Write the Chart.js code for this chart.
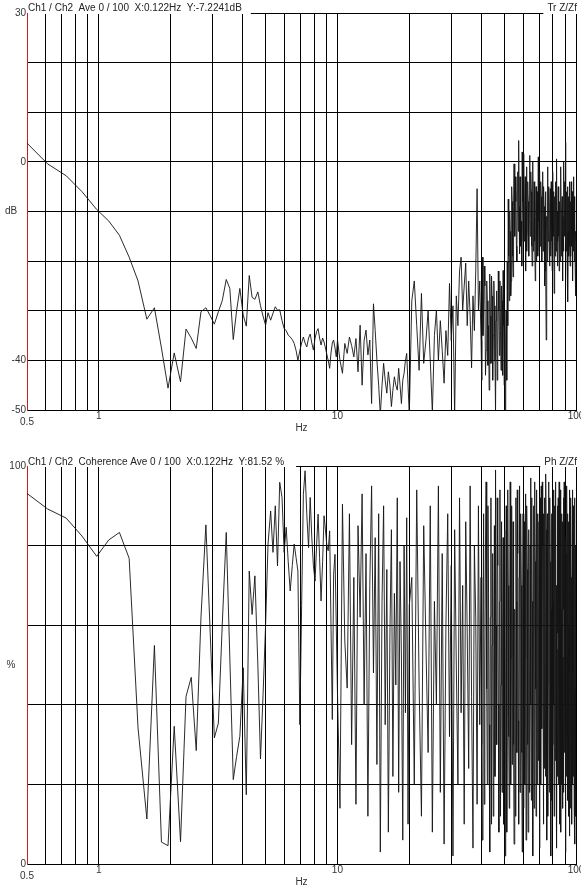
<!DOCTYPE html>
<html>
<head>
<meta charset="utf-8">
<script src="https://cdn.jsdelivr.net/npm/chart.js@4.4.1/dist/chart.umd.min.js"></script>
<style>
  html, body { margin: 0; padding: 0; background: #fff; }
  #wrap { position: relative; width: 581px; height: 886px; overflow: hidden; background: #fff; }
  .panel { position: absolute; left: 0; width: 600px; }
  #magBox { top: 0; height: 446px; }
  #cohBox { top: 446px; height: 440px; }
</style>
</head>
<body>
<div id="wrap">
  <div class="panel" id="magBox"><canvas id="magChart"></canvas></div>
  <div class="panel" id="cohBox"><canvas id="cohChart"></canvas></div>
</div>
<script>
// ---- frequency bins (Hz) ----
const freqLow = [
  0.49, 0.61, 0.73, 0.85, 0.98, 1.10, 1.22, 1.34, 1.46, 1.59,
  1.71, 1.83, 1.95, 2.07, 2.20, 2.32, 2.44, 2.56, 2.68, 2.81,
  2.93, 3.05, 3.17, 3.29, 3.42, 3.54, 3.66, 3.78, 3.90, 4.03,
  4.15, 4.27, 4.39, 4.51, 4.64, 4.76, 4.88, 5.00, 5.12, 5.25,
  5.37, 5.49, 5.61, 5.73, 5.86, 5.98, 6.10, 6.22, 6.34, 6.47,
  6.59, 6.71, 6.83, 6.96, 7.08, 7.20, 7.32, 7.44, 7.57, 7.69,
  7.81, 7.93, 8.06, 8.18, 8.30, 8.42, 8.54, 8.67, 8.79, 8.91,
  9.03, 9.15, 9.28, 9.40, 9.52, 9.64, 9.77, 9.89, 10.01
];
const freqMid = [
  10.25, 10.50, 10.74, 10.99, 11.23, 11.47, 11.72, 11.96, 12.20, 12.45,
  12.69, 12.94, 13.18, 13.42, 13.67, 13.91, 14.16, 14.40, 14.64, 14.89,
  15.13, 15.38, 15.62, 15.86, 16.11, 16.35, 16.60, 16.84, 17.08, 17.33,
  17.57, 17.82, 18.06, 18.30, 18.55, 18.79, 19.03, 19.28, 19.52, 19.77,
  20.01
];
const freqHigh = [
  20.5, 21, 21.5, 22, 22.5, 23, 23.5, 24, 24.5, 25,
  25.5, 26, 26.5, 27, 27.5, 28, 28.5, 29, 29.5, 30,
  30.5, 31, 31.5, 32, 32.5, 33, 33.5, 34, 34.5, 35,
  35.5, 36, 36.5, 37, 37.5, 38, 38.5, 39, 39.5, 40
];
const freqTop = [
  40.25, 40.5, 40.75, 41, 41.25, 41.5, 41.75, 42, 42.25, 42.5, 42.75, 43, 43.25, 43.5, 43.75, 44, 44.25, 44.5, 44.75, 45,
  45.25, 45.5, 45.75, 46, 46.25, 46.5, 46.75, 47, 47.25, 47.5, 47.75, 48, 48.25, 48.5, 48.75, 49, 49.25, 49.5, 49.75, 50,
  50.25, 50.5, 50.75, 51, 51.25, 51.5, 51.75, 52, 52.25, 52.5, 52.75, 53, 53.25, 53.5, 53.75, 54, 54.25, 54.5, 54.75, 55,
  55.25, 55.5, 55.75, 56, 56.25, 56.5, 56.75, 57, 57.25, 57.5, 57.75, 58, 58.25, 58.5, 58.75, 59, 59.25, 59.5, 59.75, 60,
  60.25, 60.5, 60.75, 61, 61.25, 61.5, 61.75, 62, 62.25, 62.5, 62.75, 63, 63.25, 63.5, 63.75, 64, 64.25, 64.5, 64.75, 65,
  65.25, 65.5, 65.75, 66, 66.25, 66.5, 66.75, 67, 67.25, 67.5, 67.75, 68, 68.25, 68.5, 68.75, 69, 69.25, 69.5, 69.75, 70,
  70.25, 70.5, 70.75, 71, 71.25, 71.5, 71.75, 72, 72.25, 72.5, 72.75, 73, 73.25, 73.5, 73.75, 74, 74.25, 74.5, 74.75, 75,
  75.25, 75.5, 75.75, 76, 76.25, 76.5, 76.75, 77, 77.25, 77.5, 77.75, 78, 78.25, 78.5, 78.75, 79, 79.25, 79.5, 79.75, 80,
  80.25, 80.5, 80.75, 81, 81.25, 81.5, 81.75, 82, 82.25, 82.5, 82.75, 83, 83.25, 83.5, 83.75, 84, 84.25, 84.5, 84.75, 85,
  85.25, 85.5, 85.75, 86, 86.25, 86.5, 86.75, 87, 87.25, 87.5, 87.75, 88, 88.25, 88.5, 88.75, 89, 89.25, 89.5, 89.75, 90,
  90.25, 90.5, 90.75, 91, 91.25, 91.5, 91.75, 92, 92.25, 92.5, 92.75, 93, 93.25, 93.5, 93.75, 94, 94.25, 94.5, 94.75, 95,
  95.25, 95.5, 95.75, 96, 96.25, 96.5, 96.75, 97, 97.25, 97.5, 97.75, 98, 98.25, 98.5, 98.75, 99, 99.25, 99.5, 99.75, 100
];

// ---- Tr Z/Zf magnitude (dB) ----
const dbLow = [
  4.2, -0.4, -2.8, -6.0, -9.6, -11.9, -14.8, -19.2, -24.0, -31.7,
  -29.4, -37.5, -45.6, -38.5, -44.3, -33.7, -35.5, -37.6, -30.2, -29.4,
  -31.0, -32.7, -30.2, -28.0, -23.7, -25.5, -35.8, -30.0, -25.5, -30.9,
  -33.1, -22.9, -27.3, -27.7, -26.2, -29.0, -31.1, -32.9, -30.4, -31.9,
  -30.5, -29.2, -29.9, -29.8, -32.0, -33.6, -34.0, -34.9, -35.3, -35.8,
  -36.6, -38.0, -40.0, -38.0, -36.5, -35.3, -36.5, -37.3, -35.5, -34.7,
  -36.5, -37.9, -35.5, -34.2, -33.6, -35.5, -36.9, -35.5, -36.3, -37.5,
  -38.8, -40.0, -41.6, -38.5, -36.5, -35.9, -37.5, -39.3, -35.9
];
const dbMid = [
  -40.0, -42.6, -36.6, -38.6, -35.3, -37.0, -39.3, -35.6, -42.3, -32.9,
  -45.0, -36.0, -33.9, -38.9, -35.9, -48.7, -28.6, -34.0, -40.0, -45.0,
  -51.0, -45.0, -40.6, -44.0, -46.6, -42.3, -45.0, -49.3, -46.0, -43.3,
  -45.0, -46.0, -41.6, -45.0, -48.7, -44.0, -42.6, -40.0, -38.6, -45.0,
  -51.0
];
const dbHigh = [
  -28, -24, -33, -42, -26.5, -40.6, -36, -30, -40, -50.5,
  -35, -29.9, -40, -32, -38, -44.6, -34, -39, -24.5, -36,
  -29, -51, -27, -33, -22, -19.2, -30, -25, -20.4, -33,
  -24, -31, -41.5, -27, -34, -22, -5.4, -30, -24, -36
];
const dbTop = [
  -44, -19.2, -35, -30, -21, -25, -43, -38, -24, -28, -41, -33, -46, -22.6, -31, -40.6, -23, -27, -44, -35,
  -24, -29, -40, -50.5, -32, -26, -44, -37, -22, -30, -39, -24, -34, -42, -25, -28, -43, -21.9, -33, -45,
  -30, -51, -36, -30, -44, -20, -33, -7.5, -19, -28, -10, -14, -27, -24, -5, -8, -19, -23.2, -9, -0.4,
  -12, -15, -3, -8, -17, -20, -6, -2, -14, 4.3, -9, -18.5, -3, -6, -17, -12, -21, 2, -8, -16,
  -7, 1.6, -16, -10, -3, -22, -9, -1, -18, -14, -4, -8, -16, -19, -7, 1.3, -15, -11, -2, -6,
  -17, -21, -8, 0, -18, -13, -4, -9, -16, -24, -11, -5, -20, -15, -6, -10, -19, 1, -12, -18,
  -9, -1.8, -17, -12, -4, -7, -16, -20, -8, -2, -18, -14, -5, -9, -19, -25, -11, -6, -22, -35.9,
  -18, -11, -20, -1, -12, -16, -5, -8, -17, -21, -9, -5.4, -19, -13, -4, -9, -16, -22, -10, -2,
  -11, -15, -6, -26.5, -14, -7, -19, -12, -4, -18, -9, 0.6, -17, -10, -21, -16, -5, -6, -15, -22,
  -12, -8, -20, -13, -7, -1, -14, -19, -10, -7, -17, -24, -11, -10, -18, 0, -9, -15, -4, -9,
  -16, 3.9, -10, -18, -8, -6, -20, -12, -5, -28.2, -14, -7, -19, -14, -4, -9, -17, -21, -8, -10,
  -19, -4, -12, -17, -6, -11, -20, -24, -9, -3, -18, -15, -7, -20, -10, -12, -22, -27, -14, -16
];

// ---- Coherence (%) ----
const cohLow = [
  93.5, 89.2, 86.9, 82.4, 77.3, 81.4, 83.3, 76.8, 34.2, 11.3,
  54.9, 5.5, 4.6, 34.6, 5.6, 42.1, 46.9, 28.5, 62.0, 85.2,
  58.0, 31.7, 35.4, 60.0, 83.3, 52.0, 21.2, 27.0, 32.1, 49.3,
  17.4, 73.6, 62.7, 72.4, 50.0, 26.4, 42.6, 60.0, 80.4, 88.7,
  78.3, 90.0, 74.9, 95.9, 92.1, 78.3, 84.6, 76.0, 68.6, 75.0,
  80.4, 77.0, 73.6, 35.0, 65.0, 92.9, 98.8, 88.0, 79.5, 92.1,
  82.0, 75.0, 71.1, 80.0, 87.9, 77.0, 66.1, 76.0, 87.5, 84.0,
  80.0, 78.7, 83.7, 60.0, 36.3, 72.8, 77.8, 60.0, 42.6
];
const cohMid = [
  14, 90.4, 56, 44.2, 88, 30, 72, 15, 85, 62,
  93, 40, 78, 12, 70, 95, 48, 82, 25, 88,
  3, 66, 90, 35, 74, 8, 58, 84, 22, 68,
  45, 92, 18, 76, 52, 6, 80, 38, 87, 10,
  65
];
const cohHigh = [
  72, 20, 94, 45, 12, 85, 55, 28, 90, 8,
  66, 40, 95, 18, 78, 5, 60, 88, 32, 75,
  2, 84, 50, 20, 92, 38, 70, 10, 86, 58,
  24, 95, 42, 4, 80, 62, 15, 90, 35, 72
];
const cohTop = [
  30, 6, 58, 88, 15, 48, 80, 96, 44, 20, 90, 68, 35, 3, 62, 92, 10, 55, 78, 12,
  50, 85, 22, 99, 60, 30, 92, 75, 40, 8, 66, 94, 12, 45, 86, 18, 56, 82, 10, 60,
  84, 2, 46, 90, 8, 38, 94, 70, 32, 14, 62, 96, 20, 52, 90, 25, 58, 86, 30, 5,
  40, 64, 12, 92, 66, 28, 94, 78, 36, 10, 72, 95, 18, 44, 88, 70, 28, 3, 60, 88,
  14, 56, 86, 20, 52, 93, 6, 36, 90, 74, 30, 8, 60, 84, 18, 48, 80, 97, 40, 16,
  92, 66, 30, 2, 58, 90, 14, 40, 96, 76, 44, 12, 70, 94, 20, 58, 88, 26, 62, 86,
  40, 4, 92, 72, 20, 95, 60, 34, 96, 80, 42, 10, 88, 62, 24, 92, 56, 22, 98, 84,
  36, 6, 88, 70, 12, 46, 80, 96, 38, 18, 92, 76, 40, 2, 64, 88, 16, 52, 90, 30,
  66, 94, 40, 12, 90, 68, 26, 85, 96, 40, 70, 4, 54, 90, 22, 58, 92, 20, 60, 96,
  10, 36, 94, 74, 30, 8, 64, 88, 20, 50, 86, 14, 52, 92, 18, 64, 96, 28, 58, 82,
  44, 3, 60, 78, 22, 95, 70, 42, 88, 16, 54, 86, 12, 60, 94, 7, 48, 90, 14, 34,
  92, 72, 30, 10, 62, 94, 20, 48, 90, 22, 66, 84, 14, 56, 92, 5, 44, 80, 12, 40
];

// ---- axes ----
const gridFreqs = [0.6, 0.7, 0.8, 0.9, 1, 2, 3, 4, 5, 6, 7, 8, 9, 10,
  20, 30, 40, 50, 60, 70, 80, 90, 100];
const freqLabels = [1, 10, 100];
const magLabels = [30, 0, -40, -50];
const cohLabels = [100, 0];

const freqHz = freqLow.concat(freqMid, freqHigh, freqTop);
const magDb = dbLow.concat(dbMid, dbHigh, dbTop);
const cohPct = cohLow.concat(cohMid, cohHigh, cohTop);

Chart.defaults.font.family = '"Liberation Sans", Arial, sans-serif';
Chart.defaults.font.size = 10;
Chart.defaults.color = '#333';

const FONT = '10px "Liberation Sans", Arial, sans-serif';

// header strip, unit labels, "0.5" and "Hz"
const textPlugin = {
  id: 'panelText',
  afterDraw(chart, args, o) {
    const { ctx, chartArea: a } = chart;
    ctx.save();
    ctx.font = FONT;
    const lw = ctx.measureText(o.left).width;
    const rw = ctx.measureText(o.right).width;
    // the header hides the top frame line behind it
    ctx.fillStyle = '#fff';
    ctx.fillRect(a.left + 1, 0, lw + o.gap, a.top + 1);
    ctx.fillRect(a.right + 1 - rw - 4, 0, rw + 4, a.top + 1);
    ctx.fillStyle = '#222';
    ctx.textBaseline = 'alphabetic';
    ctx.textAlign = 'left';
    ctx.fillText(o.left, a.left + 1, o.baseline);
    ctx.textAlign = 'right';
    ctx.fillText(o.right, a.right + 1, o.baseline);

    ctx.fillStyle = '#333';
    ctx.textAlign = 'center';
    ctx.textBaseline = 'middle';
    ctx.fillText(o.unit, 11, (a.top + a.bottom) / 2);
    ctx.fillText('0.5', a.left, a.bottom + 12.5);
    ctx.fillText('Hz', (a.left + a.right) / 2, a.bottom + 18.5);
    ctx.restore();
  }
};

function makePanel(id, ys, yMin, yMax, yStep, yLabels, padTop, xHeight, text) {
  return new Chart(document.getElementById(id), {
    type: 'line',
    data: {
      datasets: [{
        data: freqHz.map((f, i) => ({ x: f, y: ys[i] })),
        borderColor: 'rgba(20,20,20,0.9)',
        borderWidth: 1,
        pointRadius: 0,
        tension: 0,
        fill: false
      }]
    },
    options: {
      responsive: true,
      maintainAspectRatio: false,
      animation: false,
      layout: { padding: { top: padTop, right: 24, left: 0, bottom: 0 } },
      plugins: {
        legend: { display: false },
        tooltip: { enabled: false },
        panelText: text
      },
      scales: {
        x: {
          type: 'logarithmic',
          min: 0.5,
          max: 100,
          afterBuildTicks: (s) => { s.ticks = gridFreqs.map((v) => ({ value: v })); },
          afterFit: (s) => { s.height = xHeight; },
          ticks: {
            autoSkip: false,
            maxRotation: 0,
            minRotation: 0,
            padding: 0,
            callback: (v) => (freqLabels.includes(v) ? String(v) : '')
          },
          grid: { color: '#000', lineWidth: 1, drawTicks: false },
          border: { color: '#000', width: 1 }
        },
        y: {
          min: yMin,
          max: yMax,
          afterFit: (s) => { s.width = 27; },
          ticks: {
            stepSize: yStep,
            padding: 1,
            callback: (v) => (yLabels.includes(v) ? String(v) : '')
          },
          grid: { color: '#000', lineWidth: 1, drawTicks: false },
          border: { color: '#c81e1e', width: 1 }
        }
      }
    },
    plugins: [textPlugin]
  });
}

makePanel('magChart', magDb, -50, 30, 10, magLabels, 13, 36, {
  left: 'Ch1 / Ch2  Ave 0 / 100  X:0.122Hz  Y:-7.2241dB',
  right: 'Tr Z/Zf',
  unit: 'dB',
  baseline: 11,
  gap: 9
});

makePanel('cohChart', cohPct, 0, 100, 20, cohLabels, 20, 22, {
  left: 'Ch1 / Ch2  Coherence Ave 0 / 100  X:0.122Hz  Y:81.52 %',
  right: 'Ph Z/Zf',
  unit: '%',
  baseline: 19,
  gap: 12
});
</script>
</body>
</html>
